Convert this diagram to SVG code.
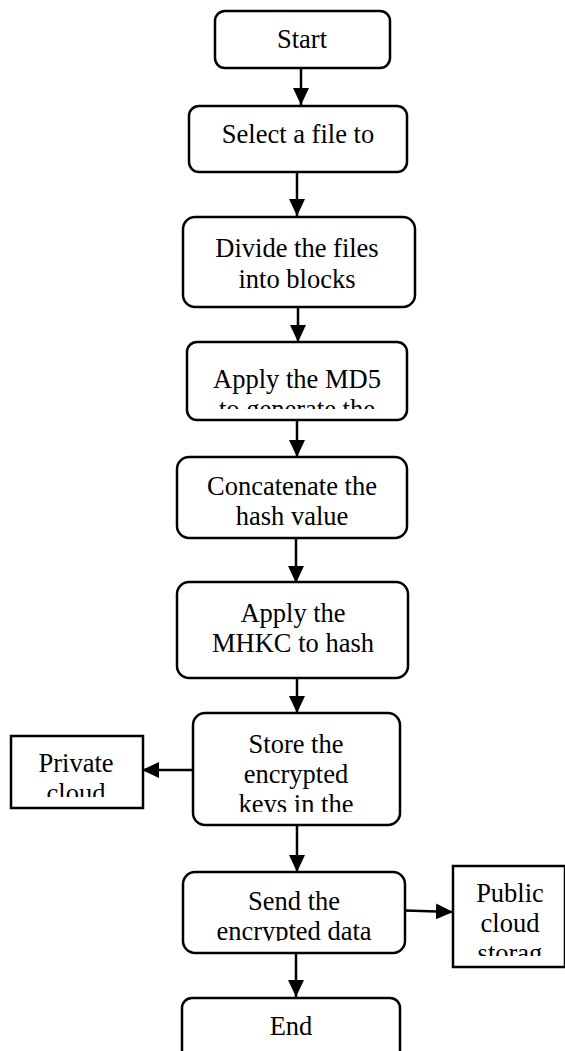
<svg xmlns="http://www.w3.org/2000/svg" width="565" height="1051" viewBox="0 0 565 1051">
<style>
.box{fill:#fff;stroke:#000;stroke-width:2.5}
.t{font-family:"Liberation Serif","Times New Roman",serif;font-size:26.5px;fill:#000;text-anchor:middle}
.c{stroke:#000;stroke-width:2.5;fill:none}
</style>
<defs>
<marker id="ah" markerUnits="userSpaceOnUse" markerWidth="18" markerHeight="16" refX="17" refY="8" orient="auto">
<path d="M0,0 L17,8 L0,16 Z" fill="#000"/>
</marker>
<clipPath id="cMD5"><rect x="187" y="342" width="220" height="67"/></clipPath>
<clipPath id="cCon"><rect x="177" y="457" width="230" height="69"/></clipPath>
<clipPath id="cSto"><rect x="193" y="713" width="207" height="99"/></clipPath>
<clipPath id="cPri"><rect x="11" y="736" width="132" height="61"/></clipPath>
<clipPath id="cSen"><rect x="183" y="872" width="222" height="69"/></clipPath>
<clipPath id="cPub"><rect x="453" y="866" width="112" height="90"/></clipPath>
</defs>
<rect width="565" height="1051" fill="#fff"/>
<g id="connectors">
<line class="c" x1="301" y1="68" x2="301" y2="105" marker-end="url(#ah)"/>
<line class="c" x1="297" y1="172" x2="297" y2="216" marker-end="url(#ah)"/>
<line class="c" x1="298" y1="307" x2="298" y2="342" marker-end="url(#ah)"/>
<line class="c" x1="297" y1="420" x2="297" y2="457" marker-end="url(#ah)"/>
<line class="c" x1="296" y1="538" x2="296" y2="583" marker-end="url(#ah)"/>
<line class="c" x1="297" y1="678" x2="297" y2="713" marker-end="url(#ah)"/>
<line class="c" x1="193" y1="770" x2="142" y2="770" marker-end="url(#ah)"/>
<line class="c" x1="297" y1="825" x2="297" y2="872" marker-end="url(#ah)"/>
<line class="c" x1="405" y1="910.5" x2="453" y2="912" marker-end="url(#ah)"/>
<line class="c" x1="296" y1="953" x2="296" y2="997" marker-end="url(#ah)"/>
</g>
<g id="start">
<rect class="box" x="215" y="11" width="175" height="57" rx="10"/>
<text class="t" x="302" y="48">Start</text>
</g>
<g id="select">
<rect class="box" x="189" y="106" width="218" height="66" rx="10"/>
<text class="t" x="298" y="143">Select a file to</text>
</g>
<g id="divide">
<rect class="box" x="183" y="217" width="232" height="90" rx="12"/>
<text class="t" x="297" y="257">Divide the files</text>
<text class="t" x="297" y="288">into blocks</text>
</g>
<g id="md5">
<rect class="box" x="187" y="342" width="220" height="78" rx="10"/>
<g clip-path="url(#cMD5)">
<text class="t" x="297" y="388">Apply the MD5</text>
<text class="t" x="297" y="418">to generate the</text>
</g>
</g>
<g id="concat">
<rect class="box" x="177" y="457" width="230" height="81" rx="12"/>
<g clip-path="url(#cCon)">
<text class="t" x="292" y="495">Concatenate the</text>
<text class="t" x="292" y="525">hash value</text>
</g>
</g>
<g id="mhkc">
<rect class="box" x="177" y="582" width="231" height="96" rx="12"/>
<text class="t" x="293" y="622">Apply the</text>
<text class="t" x="293" y="652">MHKC to hash</text>
</g>
<g id="store">
<rect class="box" x="193" y="713" width="207" height="112" rx="12"/>
<g clip-path="url(#cSto)">
<text class="t" x="296" y="753">Store the</text>
<text class="t" x="296" y="783">encrypted</text>
<text class="t" x="296" y="813">keys in the</text>
</g>
</g>
<g id="private">
<rect class="box" x="11" y="736" width="132" height="72"/>
<g clip-path="url(#cPri)">
<text class="t" x="76" y="772">Private</text>
<text class="t" x="76" y="802">cloud</text>
</g>
</g>
<g id="send">
<rect class="box" x="183" y="872" width="222" height="81" rx="12"/>
<g clip-path="url(#cSen)">
<text class="t" x="294" y="910">Send the</text>
<text class="t" x="294" y="940">encrypted data</text>
</g>
</g>
<g id="public">
<rect class="box" x="453" y="866" width="112" height="101"/>
<g clip-path="url(#cPub)">
<text class="t" x="510" y="902">Public</text>
<text class="t" x="510" y="932">cloud</text>
<text class="t" x="510" y="962">storag</text>
</g>
</g>
<g id="end">
<rect class="box" x="182" y="998" width="218" height="70" rx="10"/>
<text class="t" x="291" y="1035">End</text>
</g>
</svg>
